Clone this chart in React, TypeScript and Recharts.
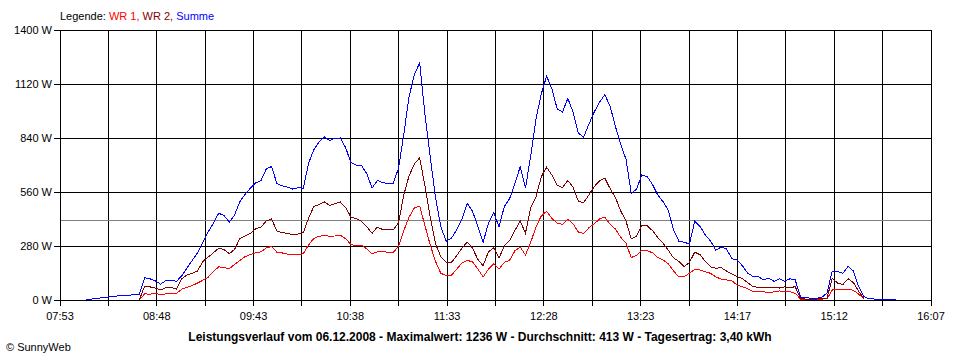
import { LineChart, Line, XAxis, YAxis, CartesianGrid, ReferenceLine } from 'recharts'

// sampling: minutes after 07:53, every 3 minutes
const FIRST_SAMPLE = 15
const SAMPLE_STEP = 3
const SPAN = 494
const GRID_STEPS = 18

const timeLabels = ['07:53', '08:48', '09:43', '10:38', '11:33', '12:28', '13:23', '14:17', '15:12', '16:07']
const yTicks = [0, 280, 560, 840, 1120, 1400]
const average = 413

const summe = [
  0, 5, 8, 12, 15, 19, 21, 23, 25, 27,
  30, 115, 110, 100, 82, 100, 104, 96, 125, 166,
  205, 245, 300, 352, 398, 450, 438, 404, 440, 510,
  548, 580, 607, 620, 680, 692, 604, 592, 585, 575,
  582, 580, 710, 780, 820, 845, 828, 838, 840, 790,
  712, 700, 697, 655, 580, 620, 608, 605, 605, 683,
  860, 1055, 1170, 1230, 960, 740, 530, 380, 305, 320,
  365, 420, 500, 460, 380, 300, 398, 452, 380, 485,
  525, 605, 690, 580, 750, 940, 1070, 1160, 1095, 990,
  975, 1045, 975, 865, 845, 912, 975, 1025, 1065, 1005,
  900, 808, 730, 552, 575, 648, 640, 600, 545, 510,
  465, 363, 305, 300, 290, 408, 382, 337, 305, 258,
  275, 265, 215, 207, 178, 140, 122, 121, 105, 112,
  97, 110, 97, 110, 104, 15, 11, 10, 9, 14,
  35, 150, 148, 138, 175, 150, 69, 18, 6, 5,
  4, 5, 4, 5,
]

const wr2 = [
  null, null, null, null, null, null, null, null, null, null,
  0, 72, 68, 62, 52, 64, 66, 56, 110, 130,
  138, 150, 200, 222, 245, 268, 262, 240, 262, 318,
  333, 345, 370, 378, 410, 420, 358, 349, 346, 338,
  342, 350, 425, 485, 495, 508, 490, 500, 508, 480,
  430, 422, 408, 380, 346, 378, 365, 363, 363, 400,
  545, 645, 705, 737, 590, 430, 290, 225, 195, 195,
  230, 270, 300, 268, 210, 178, 250, 270, 218, 280,
  308, 360, 410, 346, 480, 536, 640, 688, 648, 595,
  583, 620, 585, 512, 505, 545, 588, 618, 632, 578,
  532, 462, 410, 316, 330, 388, 385, 360, 324, 295,
  258, 218, 200, 172, 195, 248, 235, 200, 172, 164,
  168, 150, 135, 121, 112, 90, 70, 65, 67, 62,
  66, 62, 68, 64, 69, 6, 5, 5, 5, 6,
  10, 112, 88, 80, 110, 90, 45, 8, null, null,
  null, null, null, null,
]

const wr1 = [
  null, null, null, null, null, null, null, null, null, null,
  0, 32, 30, 34, 28, 32, 32, 33, 56, 65,
  75, 88, 102, 118, 147, 172, 168, 162, 184, 205,
  225, 236, 245, 250, 270, 278, 248, 244, 238, 237,
  234, 240, 286, 320, 330, 336, 330, 332, 336, 318,
  288, 282, 285, 265, 240, 250, 250, 248, 246, 278,
  360, 430, 478, 487, 385, 285, 200, 138, 128, 128,
  160, 192, 205, 198, 160, 119, 160, 188, 160, 195,
  206, 255, 275, 233, 300, 380, 436, 460, 423, 398,
  392, 418, 395, 352, 345, 375, 395, 420, 430, 392,
  368, 325, 295, 220, 232, 258, 256, 245, 220, 208,
  188, 150, 120, 120, 140, 158, 156, 147, 138, 120,
  108, 104, 100, 78, 69, 58, 45, 43, 43, 38,
  42, 47, 43, 43, 35, 5, 4, 4, 4, 5,
  6, 52, 55, 55, 56, 50, 30, 6, null, null,
  null, null, null, null,
]

const data = summe.map((v, i) => ({
  t: FIRST_SAMPLE + i * SAMPLE_STEP,
  summe: v,
  wr1: wr1[i],
  wr2: wr2[i],
}))

const xTicks = Array.from({ length: GRID_STEPS + 1 }, (_, i) => (i * SPAN) / GRID_STEPS)

const FONT = '"Liberation Sans", Arial, sans-serif'

function xLabel(v: number) {
  const i = Math.round((v * GRID_STEPS) / SPAN)
  return i % 2 === 0 ? timeLabels[i / 2] : ''
}

function XTick({ x, y, payload }: any) {
  return (
    <text x={x} y={y} dy="0.71em" textAnchor="middle" fontSize={11} fontFamily={FONT} fill="#000">
      {xLabel(payload.value)}
    </text>
  )
}

function YTick({ x, y, payload }: any) {
  return (
    <text x={x} y={y} dy="0.355em" textAnchor="end" fontSize={11} fontFamily={FONT} fill="#000">
      {`${payload.value} W`}
    </text>
  )
}

export default function App() {
  return (
    <div
      style={{
        position: 'absolute',
        left: 0,
        top: 0,
        width: 960,
        height: 360,
        background: '#fff',
        fontFamily: FONT,
        shapeRendering: 'crispEdges',
      }}
    >
      <LineChart width={960} height={360} data={data} margin={{ top: 30, right: 29, left: 0, bottom: 30 }}>
        <CartesianGrid stroke="#000" />
        <XAxis
          dataKey="t"
          type="number"
          domain={[0, SPAN]}
          ticks={xTicks}
          interval={0}
          height={30}
          tickSize={6}
          tickMargin={6}
          tick={<XTick />}
          axisLine={{ stroke: '#000' }}
          tickLine={{ stroke: '#000' }}
        />
        <YAxis
          domain={[0, 1400]}
          ticks={yTicks}
          interval={0}
          width={60}
          tickSize={6}
          tickMargin={2}
          tick={<YTick />}
          axisLine={{ stroke: '#000' }}
          tickLine={{ stroke: '#000' }}
        />
        <ReferenceLine y={average} stroke="#808080" />
        <Line type="linear" dataKey="wr1" stroke="#ff0000" strokeWidth={1} dot={false} isAnimationActive={false} />
        <Line type="linear" dataKey="wr2" stroke="#800000" strokeWidth={1} dot={false} isAnimationActive={false} />
        <Line type="linear" dataKey="summe" stroke="#0000ff" strokeWidth={1} dot={false} isAnimationActive={false} />
      </LineChart>
      <svg
        width={960}
        height={360}
        style={{ position: 'absolute', left: 0, top: 0, pointerEvents: 'none' }}
      >
        <text x={60} y={20} fontSize={11} fontFamily={FONT}>
          <tspan fill="#000">Legende: </tspan>
          <tspan fill="#ff0000">WR 1, </tspan>
          <tspan fill="#800000">WR 2, </tspan>
          <tspan fill="#0000ff">Summe</tspan>
        </text>
        <text x={480} y={341} fontSize={12} fontWeight="bold" textAnchor="middle" fontFamily={FONT} fill="#000">
          Leistungsverlauf vom 06.12.2008 - Maximalwert: 1236 W - Durchschnitt: 413 W - Tagesertrag: 3,40 kWh
        </text>
        <text x={6} y={351} fontSize={11} fontFamily={FONT} fill="#000">
          © SunnyWeb
        </text>
      </svg>
    </div>
  )
}
